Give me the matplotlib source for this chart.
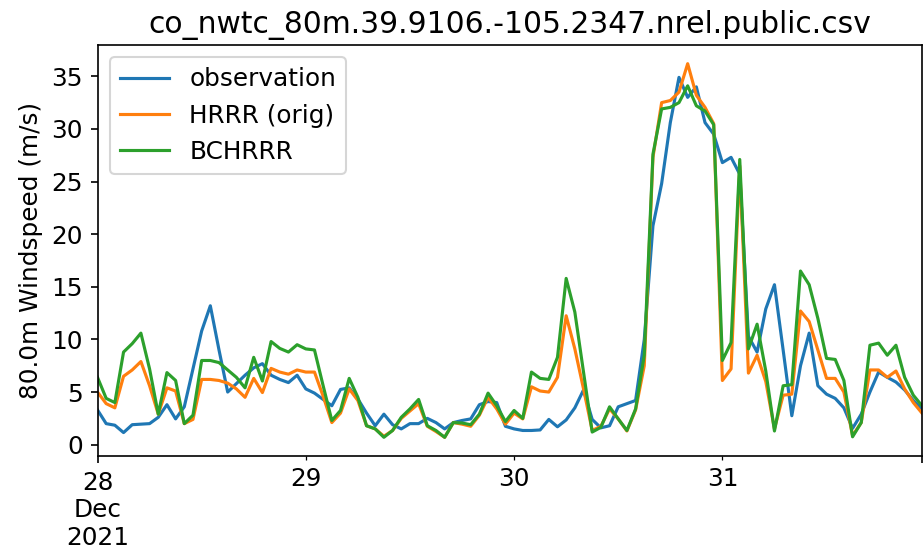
import matplotlib
matplotlib.use("Agg")
import matplotlib.pyplot as plt
import pandas as pd

start = "2021-12-28 00:00"
periods = 96
title = "co_nwtc_80m.39.9106.-105.2347.nrel.public.csv"
ylabel = "80.0m Windspeed (m/s)"
series_names = ["observation", "HRRR (orig)", "BCHRRR"]

observation = [
    3.3, 2.0, 1.85, 1.15, 1.9, 1.95, 2.0, 2.6, 3.8, 2.45, 3.6, 7.2,
    10.8, 13.2, 9.0, 5.0, 5.8, 6.6, 7.3, 7.7, 6.6, 6.2, 5.9, 6.6,
    5.3, 4.9, 4.3, 3.7, 5.25, 5.4, 4.35, 3.0, 1.8, 2.9, 1.9, 1.5,
    2.0, 2.0, 2.5, 2.1, 1.5, 2.1, 2.3, 2.45, 3.8, 4.1, 4.0, 1.75,
    1.5, 1.35, 1.35, 1.4, 2.4, 1.7, 2.35, 3.5, 5.2, 2.4, 1.6, 1.8,
    3.6, 3.9, 4.2, 10.0, 20.8, 24.8, 30.6, 34.9, 33.0, 34.0, 30.6, 29.5,
    26.8, 27.3, 25.7, 10.3, 8.8, 12.9, 15.2, 9.0, 2.75, 7.5, 10.6, 5.6,
    4.8, 4.4, 3.5, 1.55, 2.9, 5.0, 6.9, 6.4, 5.95, 5.2, 4.2, 3.4,
]
hrrr_orig = [
    5.0, 3.9, 3.5, 6.5, 7.1, 7.9, 5.6, 2.9, 5.4, 5.1, 2.0, 2.4,
    6.2, 6.2, 6.1, 5.85, 5.3, 4.5, 6.3, 4.95, 7.25, 6.9, 6.7, 7.1,
    6.9, 6.9, 4.6, 2.1, 3.0, 5.3, 4.2, 1.8, 1.5, 0.8, 1.35, 2.5,
    3.2, 3.9, 1.75, 1.25, 0.7, 2.1, 1.95, 1.75, 2.8, 4.5, 3.4, 1.95,
    3.0, 2.45, 5.5, 5.1, 5.0, 6.4, 12.25, 9.1, 5.3, 1.35, 1.75, 3.4,
    2.45, 1.3, 3.3, 7.5, 27.3, 32.5, 32.7, 33.5, 36.2, 33.2, 32.05, 30.5,
    6.1, 7.2, 26.5, 6.8, 8.5, 6.0, 1.5, 4.7, 4.8, 12.7, 11.7, 9.0,
    6.3, 6.3, 5.0, 0.86, 2.1, 7.1, 7.1, 6.4, 7.0, 5.3, 4.0, 3.0,
]
bchrrr = [
    6.4, 4.4, 4.0, 8.8, 9.6, 10.6, 7.2, 2.9, 6.85, 6.1, 2.0, 2.8,
    8.0, 8.0, 7.8, 7.1, 6.4, 5.4, 8.3, 6.05, 9.8, 9.15, 8.8, 9.5,
    9.1, 9.0, 5.6, 2.3, 3.25, 6.3, 4.5, 1.8, 1.5, 0.7, 1.35, 2.6,
    3.4, 4.3, 1.8, 1.35, 0.7, 2.1, 2.06, 1.9, 2.9, 4.9, 3.7, 2.2,
    3.25, 2.5, 6.9, 6.3, 6.2, 8.3, 15.8, 12.6, 6.9, 1.2, 1.65, 3.6,
    2.45, 1.35, 3.4, 8.5, 27.6, 31.9, 32.05, 32.5, 34.1, 32.2, 31.7, 30.4,
    8.0, 9.7, 27.1, 9.1, 11.45, 7.0, 1.3, 5.6, 5.7, 16.5, 15.2, 12.0,
    8.2, 8.1, 6.1, 0.75, 2.1, 9.45, 9.65, 8.5, 9.45, 6.4, 4.7, 3.7,
]

plt.rcParams["font.size"] = 11.9

index = pd.date_range(start, periods=periods, freq="h")
df = pd.DataFrame({series_names[0]: observation,
                   series_names[1]: hrrr_orig,
                   series_names[2]: bchrrr}, index=index)

dpi = 150
fig = plt.figure(figsize=(923 / dpi, 550 / dpi), dpi=dpi)
ax = fig.add_axes([97.5 / 923, 1 - 456 / 550, (922 - 97.5) / 923, (456 - 45) / 550])
df.plot(ax=ax)
ax.set_title(title)
ax.set_ylabel(ylabel)
ax.set_xlabel("")
ax.legend(loc="upper left")
fig.savefig("out.png", dpi=dpi)
